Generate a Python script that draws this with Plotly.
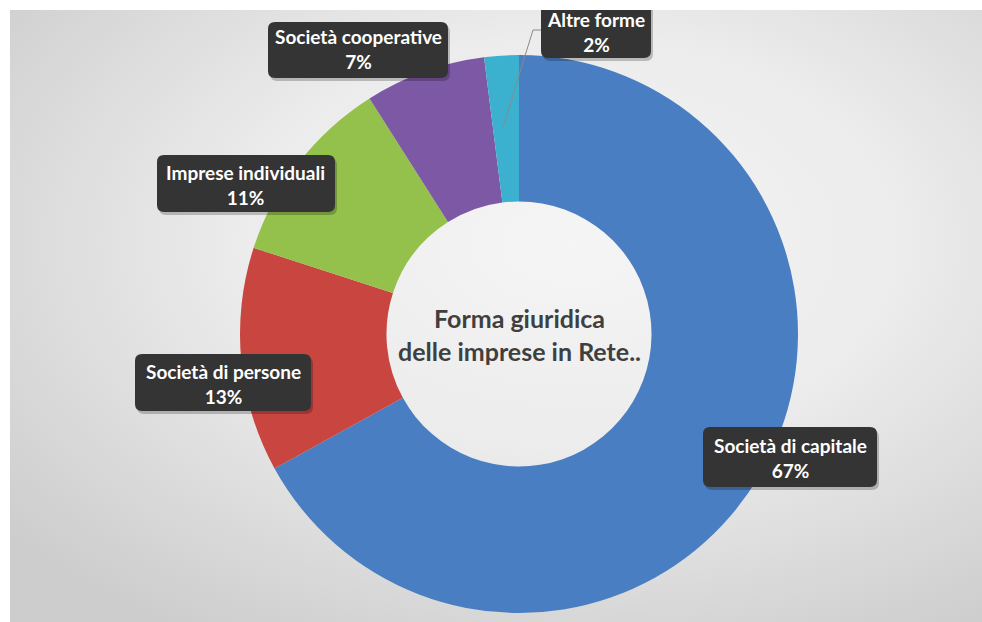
import base64
import plotly.graph_objects as go

# ---- data ----
labels = ["Società di capitale", "Società di persone", "Imprese individuali",
          "Società cooperative", "Altre forme"]
values = [67, 13, 11, 7, 2]
colors = ["#4A7EC2", "#C9453F", "#94C04C", "#7D58A5", "#3CB1CF"]
center_title = "Forma giuridica<br>delle imprese in Rete.."

W, H = 982, 622

def px(x):
    return x / W

def py(y):
    return 1 - y / H

fig = go.Figure()
fig.add_trace(go.Pie(
    labels=labels, values=values, sort=False, direction="clockwise", rotation=0,
    hole=0.475, textinfo="none", marker=dict(colors=colors, line=dict(width=0)),
    showlegend=False,
    domain=dict(x=[px(240), px(798)], y=[py(613), py(55)]),
))

# background radial gradient
svg = f'''<svg xmlns="http://www.w3.org/2000/svg" width="972" height="612">
<defs><radialGradient id="g" cx="58%" cy="38%" r="75%">
<stop offset="0%" stop-color="#f5f5f5"/><stop offset="45%" stop-color="#ececec"/>
<stop offset="100%" stop-color="#cdcdcd"/></radialGradient></defs>
<rect width="972" height="612" fill="url(#g)"/></svg>'''
src = "data:image/svg+xml;base64," + base64.b64encode(svg.encode()).decode()

shapes = []

def rounded(x0, y0, x1, y1, r=7):
    pts = (f"M {px(x0+r)},{py(y0)} L {px(x1-r)},{py(y0)} Q {px(x1)},{py(y0)} {px(x1)},{py(y0+r)} "
           f"L {px(x1)},{py(y1-r)} Q {px(x1)},{py(y1)} {px(x1-r)},{py(y1)} "
           f"L {px(x0+r)},{py(y1)} Q {px(x0)},{py(y1)} {px(x0)},{py(y1-r)} "
           f"L {px(x0)},{py(y0+r)} Q {px(x0)},{py(y0)} {px(x0+r)},{py(y0)} Z")
    return pts

# label boxes (pixel layout): label index -> box
boxes = {
    0: (703, 427, 877, 487),
    1: (135, 354, 311, 411),
    2: (157, 155, 335, 212),
    3: (268, 22, 448, 78),
    4: (541, -6, 651, 58),
}
text_centers = {
    0: 458, 1: 384, 2: 185, 3: 49, 4: 32,
}

# leader line for small slice
shapes.append(dict(type="path", xref="paper", yref="paper",
                   path=f"M {px(541)},{py(30)} L {px(533)},{py(30)} L {px(503)},{py(127)}",
                   line=dict(color="#8a8a8a", width=1)))

for i, (x0, y0, x1, y1) in boxes.items():
    shapes.append(dict(type="path", xref="paper", yref="paper", path=rounded(x0 + 2, y0 + 3, x1 + 2, y1 + 3),
                       fillcolor="rgba(0,0,0,0.22)", line=dict(width=0)))
    shapes.append(dict(type="path", xref="paper", yref="paper", path=rounded(x0, y0, x1, y1),
                       fillcolor="#343434", line=dict(width=0)))

# white page border at top, covering the top of the clipped box
shapes.append(dict(type="rect", xref="paper", yref="paper", x0=0, x1=1, y0=py(10), y1=1,
                   fillcolor="white", line=dict(width=0)))

annotations = []
for i, (x0, y0, x1, y1) in boxes.items():
    annotations.append(dict(
        x=px((x0 + x1) / 2), y=py(text_centers[i]), xref="paper", yref="paper",
        xanchor="center", yanchor="middle",
        text=f"<b>{labels[i]}</b><br><b>{values[i]}%</b>", showarrow=False,
        font=dict(family="Lato", size=19, color="white"), align="center",
    ))

annotations.append(dict(
    x=px(519), y=py(335), xref="paper", yref="paper", xanchor="center", yanchor="middle",
    text=f"<b>{center_title}</b>",
    showarrow=False, font=dict(family="Lato", size=25, color="#3f3f3f"), align="center",
))

fig.update_layout(
    width=W, height=H, margin=dict(l=0, r=0, t=0, b=0),
    paper_bgcolor="white", plot_bgcolor="white",
    images=[dict(source=src, xref="paper", yref="paper", x=px(10), y=py(10),
                 sizex=px(972), sizey=612 / H, sizing="stretch", layer="below",
                 xanchor="left", yanchor="top")],
    shapes=shapes, annotations=annotations,
)

fig.write_html("out.html")
